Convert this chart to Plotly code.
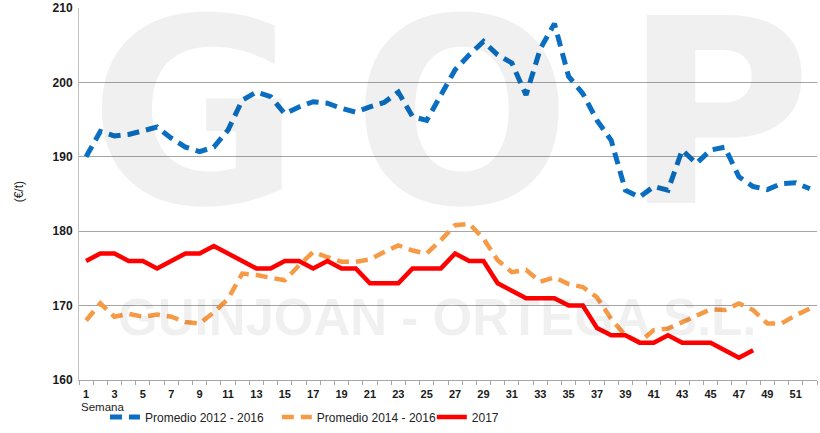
import plotly.graph_objects as go

# --- datos (€/t por semana) ---
semanas = list(range(1, 53))

prom_2012_2016 = [190.0, 193.4, 192.8, 193.0, 193.5, 194.0, 192.5, 191.3, 190.7, 191.3,
                  193.6, 197.6, 198.7, 198.1, 195.8, 196.7, 197.4, 197.2, 196.5, 196.0,
                  196.7, 197.3, 198.7, 195.4, 194.9, 198.3, 201.7, 203.7, 205.5, 203.7,
                  202.6, 198.3, 204.5, 207.9, 200.8, 198.5, 194.9, 192.2, 185.5, 184.6,
                  186.0, 185.5, 190.9, 189.1, 190.9, 191.3, 187.3, 186.0, 185.6, 186.4,
                  186.5, 185.7]

prom_2014_2016 = [168.0, 170.3, 168.5, 168.9, 168.5, 168.8, 168.5, 167.8, 167.6, 169.1,
                  170.9, 174.3, 174.1, 173.8, 173.4, 175.4, 177.2, 176.5, 175.9, 175.9,
                  176.2, 177.2, 178.1, 177.4, 177.0, 178.8, 180.8, 181.0, 179.0, 176.1,
                  174.5, 174.8, 173.2, 173.8, 172.9, 172.5, 171.1, 168.2, 166.0, 165.1,
                  166.7, 166.9, 167.8, 168.7, 169.5, 169.4, 170.3, 169.4, 167.6, 167.6,
                  168.7, 169.6]

semanas_2017 = list(range(1, 49))
precio_2017 = [176, 177, 177, 176, 176, 175, 176, 177, 177, 178,
               177, 176, 175, 175, 176, 176, 175, 176, 175, 175,
               173, 173, 173, 175, 175, 175, 177, 176, 176, 173,
               172, 171, 171, 171, 170, 170, 167, 166, 166, 165,
               165, 166, 165, 165, 165, 164, 163, 164]

ticks_x = [w for w in semanas if w % 2 == 1]
etiquetas_x = [str(w) for w in ticks_x]

AZUL = "#0a6fc2"
NARANJA = "#f79a46"
ROJO = "#ff0000"
SANS = "Liberation Sans, Arial, sans-serif"

fig = go.Figure()
fig.add_trace(go.Scatter(x=semanas, y=prom_2012_2016, name="Promedio 2012 - 2016", mode="lines",
                         line=dict(color=AZUL, width=5, dash="12px,7px"), legend="legend"))
fig.add_trace(go.Scatter(x=semanas, y=prom_2014_2016, name="Promedio 2014 - 2016", mode="lines",
                         line=dict(color=NARANJA, width=4.5, dash="12px,7px"), legend="legend2"))
fig.add_trace(go.Scatter(x=semanas_2017, y=precio_2017, name="2017", mode="lines",
                         line=dict(color=ROJO, width=4.5), legend="legend3"))

# marca de agua
fig.add_annotation(text="<b>G\u2009O\u2009P</b>", xref="paper", yref="paper", x=0.503, y=0.716,
                   xanchor="center", yanchor="middle", showarrow=False,
                   font=dict(family="DejaVu Sans", size=258, color="rgba(0,0,0,0.06)"))
fig.add_annotation(text="<b>GUINJOAN - ORTEGA S.L.</b>", xref="paper", yref="paper", x=0.485, y=0.168,
                   xanchor="center", yanchor="middle", showarrow=False,
                   font=dict(family=SANS, size=51, color="rgba(0,0,0,0.06)"))

fig.add_annotation(text="(€/t)", xref="paper", yref="paper", x=-0.081, y=0.505, textangle=-90,
                   xanchor="center", yanchor="middle", showarrow=False,
                   font=dict(family=SANS, size=12, color="#222"))
fig.add_annotation(text="Semana", xref="paper", yref="paper", x=0, y=-0.073,
                   xanchor="left", yanchor="middle", showarrow=False,
                   font=dict(family=SANS, size=11.5, color="#222"))

# leyendas separadas, referidas al contenedor para no empujar márgenes
leg = dict(orientation="h", xref="container", yref="container", yanchor="middle", y=0.037,
           xanchor="left", font=dict(family=SANS, size=12, color="#222"), bgcolor="rgba(0,0,0,0)")

fig.update_layout(
    width=820, height=433, margin=dict(l=79, r=3, t=8, b=53),
    paper_bgcolor="white", plot_bgcolor="white", showlegend=True,
    legend=dict(leg, x=0.128), legend2=dict(leg, x=0.3376), legend3=dict(leg, x=0.5266),
    xaxis=dict(range=[0.5, 52.5], tickmode="array", tickvals=ticks_x, ticktext=etiquetas_x,
               automargin=False, showgrid=False, zeroline=False, showline=True,
               linecolor="#a6a6a6", ticks="", ticklabelstandoff=4,
               tickfont=dict(family=SANS, size=11, color="#1a1a1a", weight="bold"),
               minor=dict(tickmode="linear", tick0=0.5, dtick=1, ticks="outside", ticklen=4,
                          tickcolor="#a6a6a6", showgrid=False)),
    yaxis=dict(range=[160, 210], dtick=10, automargin=False, showgrid=True,
               gridcolor="#a6a6a6", gridwidth=1,
               zeroline=False, showline=True, linecolor="#c0c0c0", ticks="",
               ticklabelstandoff=3,
               tickfont=dict(family=SANS, size=12, color="#1a1a1a", weight="bold")),
)

fig.write_html("out.html", config={"displayModeBar": False},
               post_script="document.body.style.margin='0';")
